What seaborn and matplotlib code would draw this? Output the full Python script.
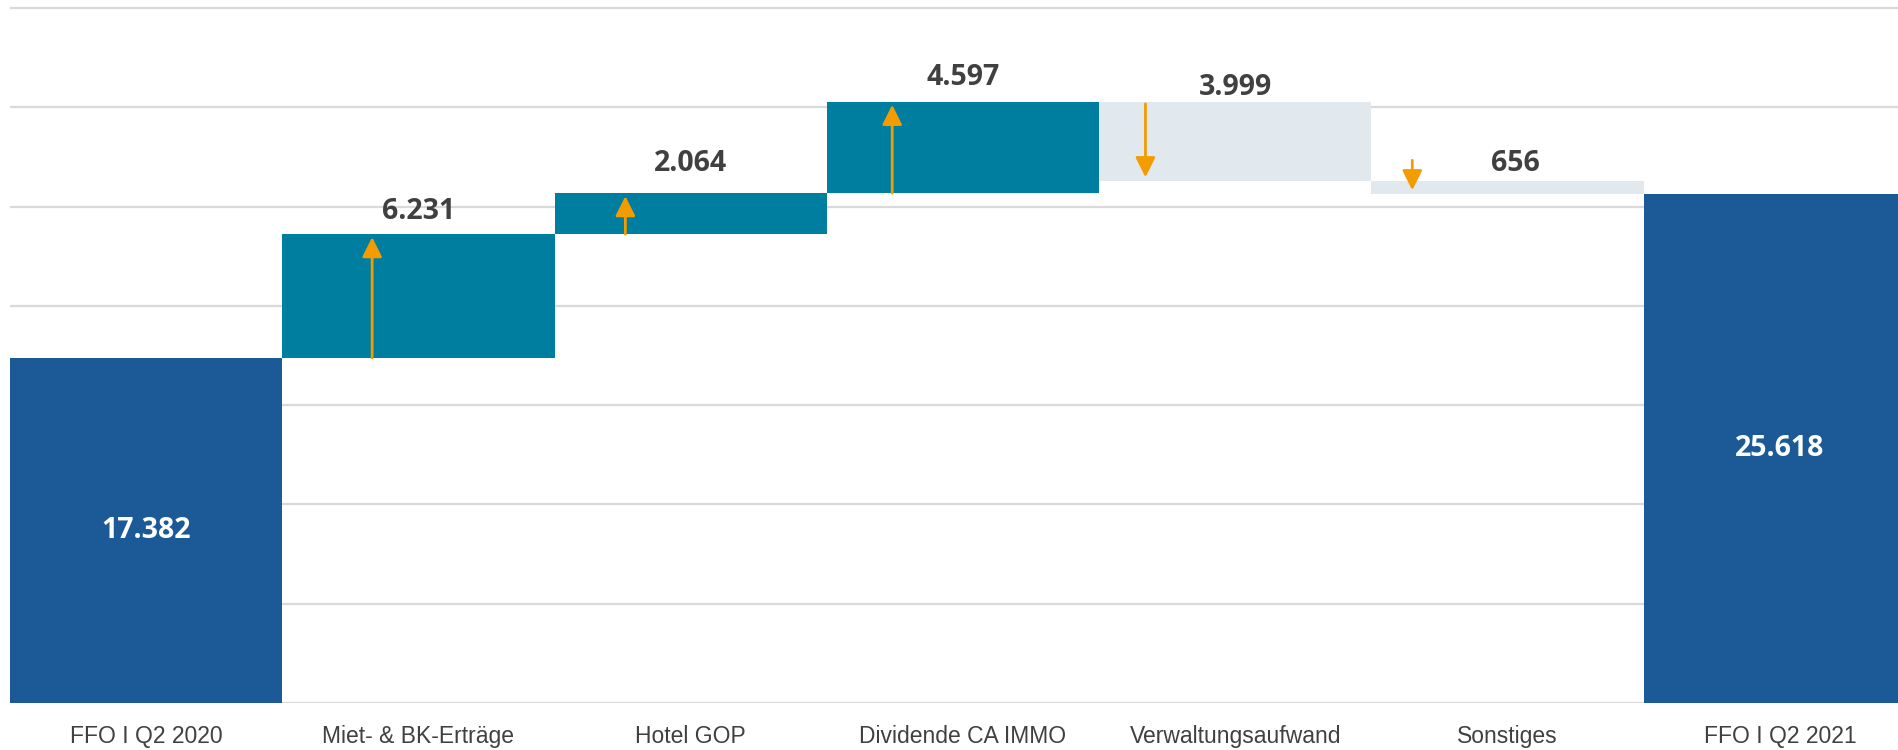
import matplotlib
matplotlib.use("Agg")
import matplotlib.pyplot as plt
import seaborn as sns
import numpy as np

# ---- data ----
categories = ["FFO I Q2 2020", "Miet- & BK-Erträge", "Hotel GOP", "Dividende CA IMMO",
              "Verwaltungsaufwand", "Sonstiges", "FFO I Q2 2021"]
changes = [17382, 6231, 2064, 4597, -3999, -656, 25618]
kinds = ["total", "up", "up", "up", "down", "down", "total"]
value_labels = ["17.382", "6.231", "2.064", "4.597", "3.999", "656", "25.618"]

# ---- styling ----
colors = {"total": "#1B5A96", "up": "#007E9F", "down": "#E1E8EE"}
arrow_color = "#F39C00"
text_color = "#404040"
arrow_frac = [None, 0.33, 0.26, 0.24, 0.17, 0.15, None]   # arrow x position inside bar
label_offset_px = [None, 23, 30, 24, 14, 18, None]
label_dx_px = [0, 0, 0, 0, 0, 8, 0]

# waterfall geometry computed from data
bottoms, heights = [], []
running = 0
for c, k in zip(changes, kinds):
    if k == "total":
        bottoms.append(0)
        heights.append(c)
        running = c
    else:
        new = running + c
        bottoms.append(min(running, new))
        heights.append(abs(c))
        running = new

sns.set_theme(style="white")
plt.rcParams["font.family"] = ["Liberation Sans", "DejaVu Sans"]

fig = plt.figure(figsize=(18.98, 7.5), dpi=100)
W, H = 1898, 750
ax = fig.add_axes([10 / W, 47 / H, 1906 / W, 698 / H])

sns.barplot(x=categories, y=heights, bottom=bottoms, width=1.0, color=colors["up"],
            errorbar=None, linewidth=0, ax=ax, zorder=2)
for p, k in zip(ax.patches, kinds):
    p.set_facecolor(colors[k])
    p.set_edgecolor("none")

ax.set_xlim(-0.5, 6.5)
ax.set_ylim(0, 35151)
ax.set_yticks(np.arange(0, 35001, 5000))
ax.yaxis.grid(True, color="#D9D9D9", linewidth=1.6, zorder=0)
ax.xaxis.grid(False)
ax.set_axisbelow(True)
ax.tick_params(axis="y", left=False, labelleft=False)
ax.tick_params(axis="x", bottom=False, pad=10, labelsize=16.5, colors=text_color)
for s in ax.spines.values():
    s.set_visible(False)
ax.set_xlabel("")
ax.set_ylabel("")

px_per_unit = 695 / 35000.0

# labels and arrows
running = 0
for i, (c, k) in enumerate(zip(changes, kinds)):
    if k == "total":
        ax.text(i, c / 2, value_labels[i], ha="center", va="center", color="white",
                fontsize=20.5, fontweight="bold", family="Open Sans", zorder=5)
        running = c
        continue
    start, end = running, running + c
    top = max(start, end)
    ax.annotate(value_labels[i], xy=(i, top),
                xytext=(label_dx_px[i] * 0.72, label_offset_px[i] * 0.72),
                textcoords="offset points", ha="center", va="center", color=text_color,
                fontsize=20.5, fontweight="bold", family="Open Sans", zorder=5)
    x = i - 0.5 + arrow_frac[i]
    min_len = 30 / px_per_unit
    if k == "up":
        tail, tip = start, end - 3 / px_per_unit
    else:
        tip = end + 4 / px_per_unit
        tail = start - 2 / px_per_unit
        if tail - tip < min_len:
            tail = tip + min_len
    ax.annotate("", xy=(x, tip), xytext=(x, tail),
                arrowprops=dict(arrowstyle="-|>,head_length=1.2,head_width=0.6",
                                color=arrow_color, lw=2.0, shrinkA=0, shrinkB=0,
                                mutation_scale=10),
                zorder=4)
    running = end

fig.savefig("out.png", dpi=100, facecolor="white")
